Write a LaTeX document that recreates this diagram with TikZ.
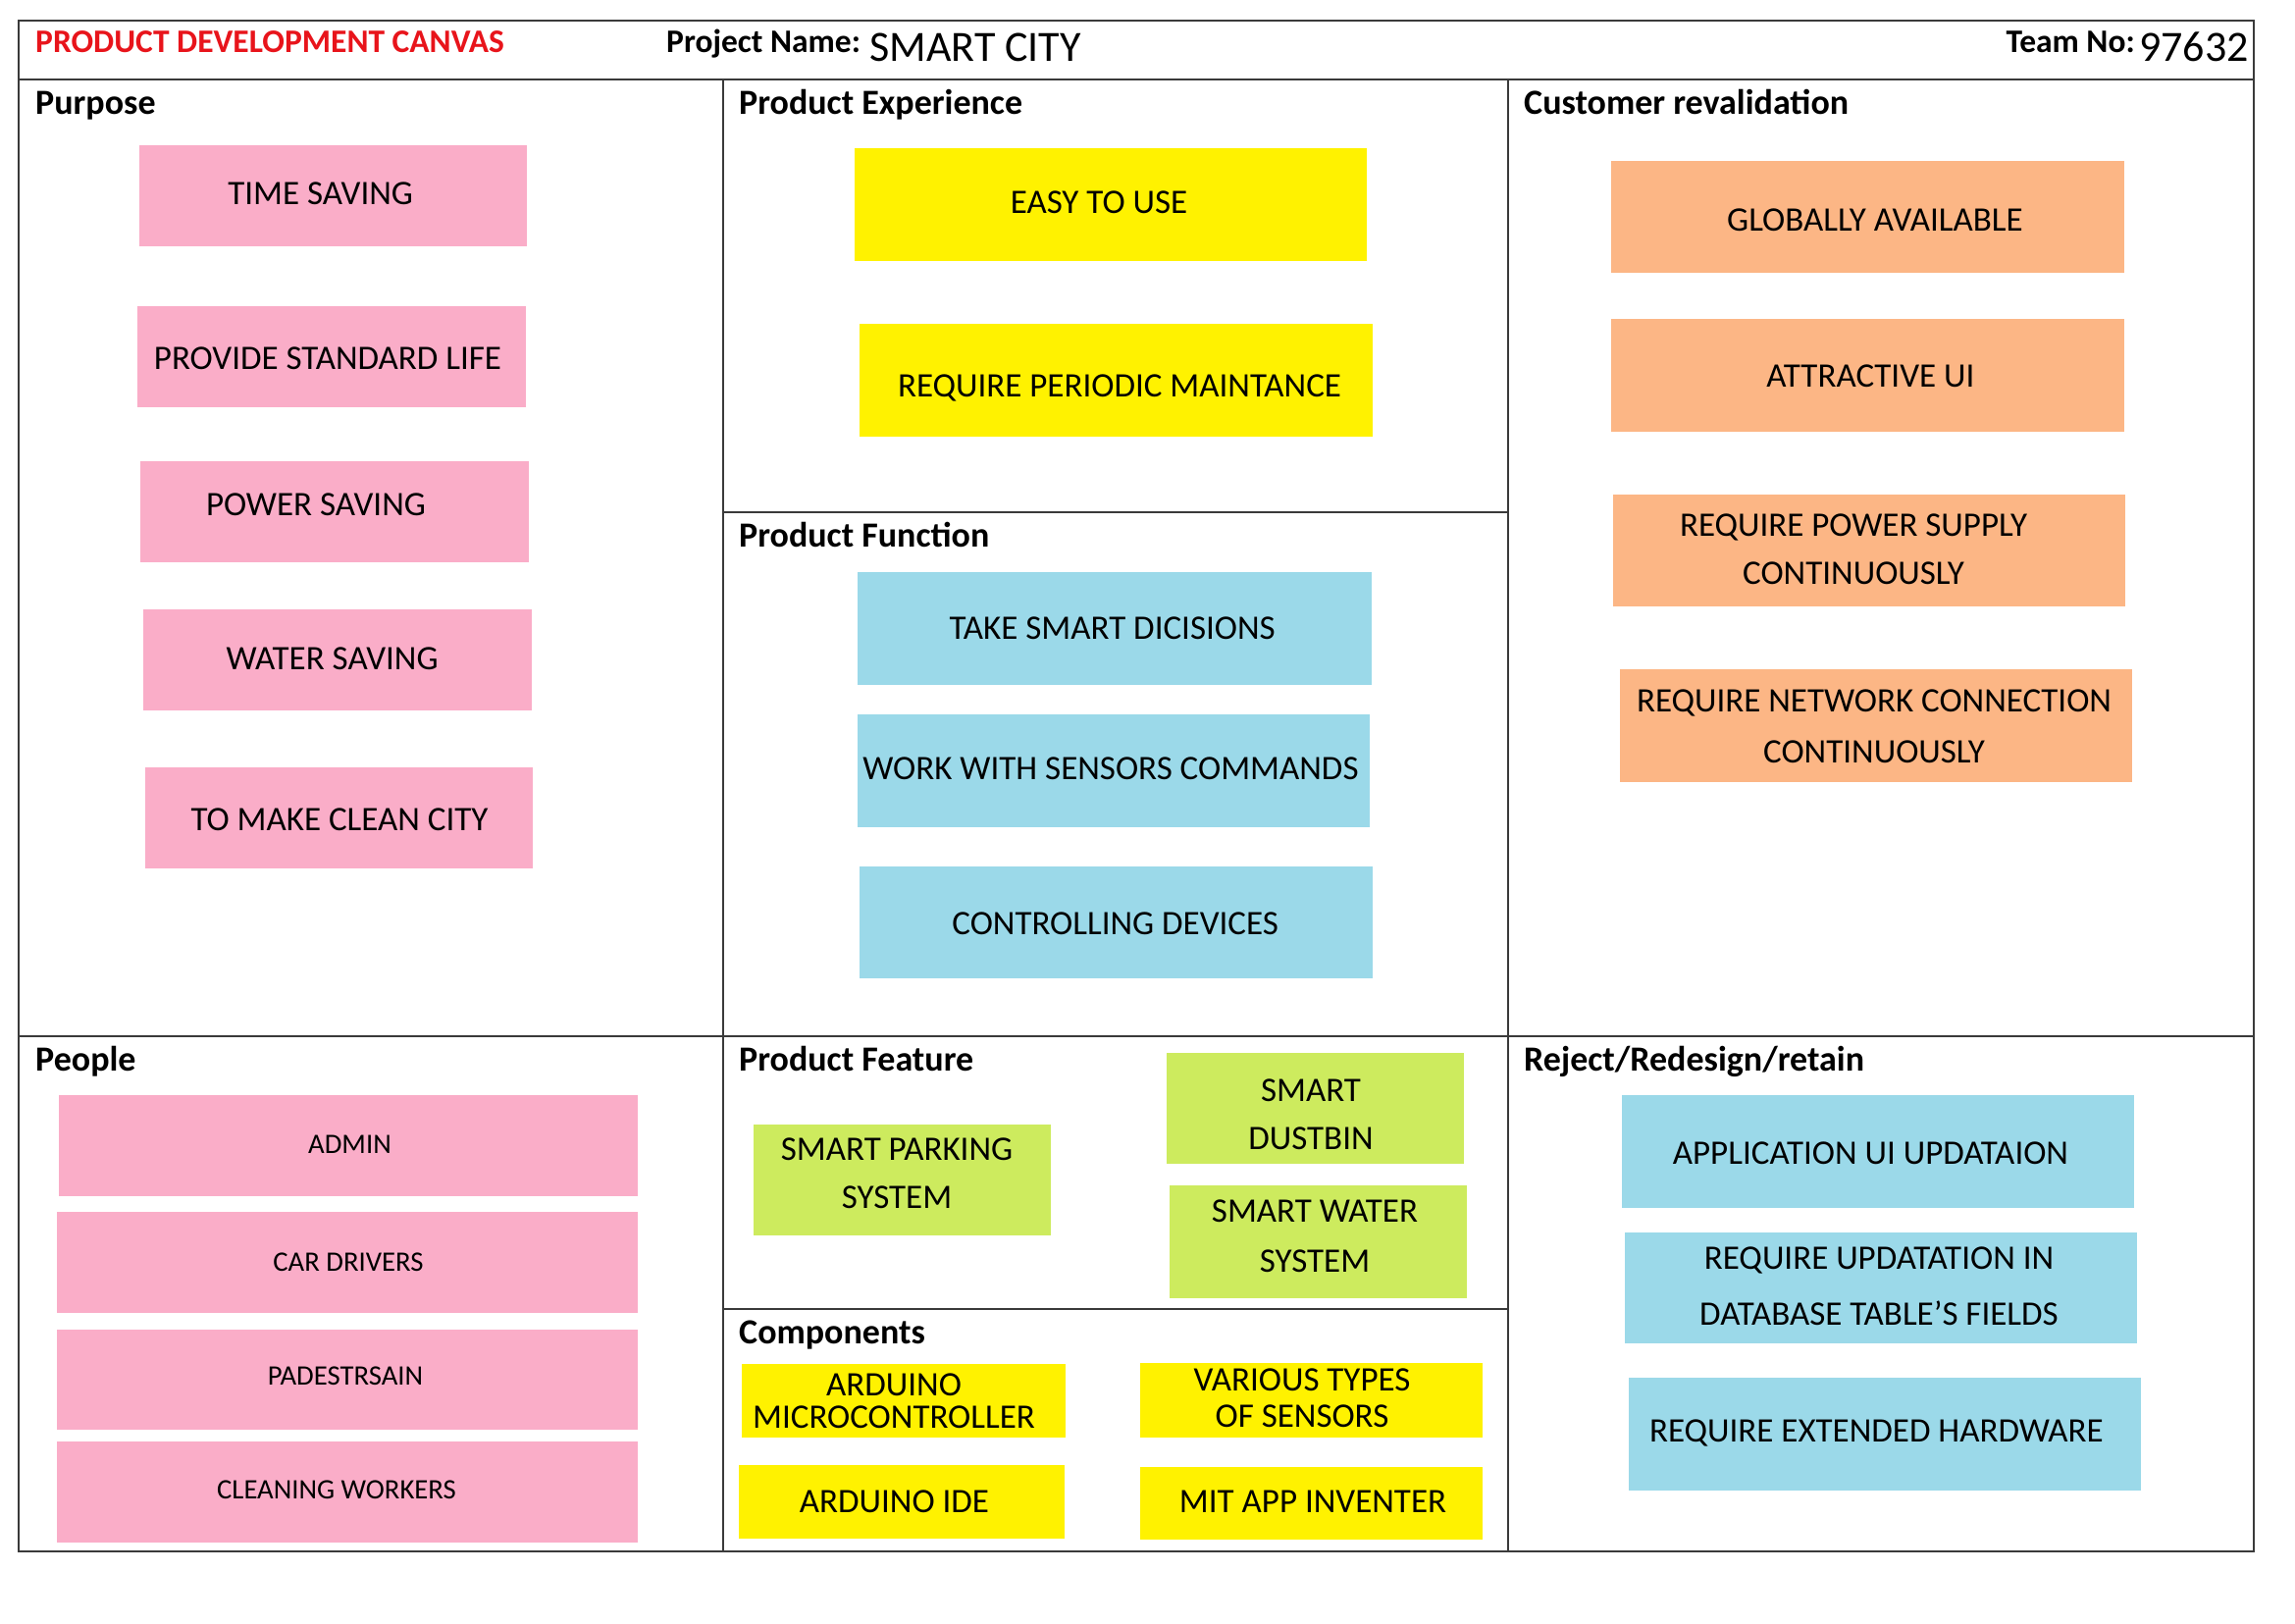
\documentclass[tikz,border=0pt]{standalone}
\usepackage{fontspec}
\setmainfont{Carlito}
\usetikzlibrary{fit}
\definecolor{pinkc}{HTML}{FAADC8}
\definecolor{yelc}{HTML}{FFF200}
\definecolor{cyanc}{HTML}{9BD9E9}
\definecolor{orgc}{HTML}{FCB685}
\definecolor{grnc}{HTML}{CDEB5E}
\definecolor{linec}{HTML}{3A3A3A}
\definecolor{redc}{HTML}{E8141B}
\tikzset{
  cardbox/.style={draw=none, inner sep=0pt, outer sep=0pt, rectangle},
  cardtext/.style={inner sep=0pt, align=center, font=\fontsize{35}{41}\selectfont},
  peopletext/.style={font=\fontsize{28.7}{34}\selectfont},
  head/.style={anchor=base west, inner sep=0pt, font=\fontsize{36}{42}\selectfont\bfseries},
  gridline/.style={draw=linec, line width=2pt},
}
\newcommand\card[7][]{%
  \node[cardbox, fill=#5, fit={(#3) (#4)}] (#2) {};
  \node[cardtext,#1] (#2t) at (#6) {#7};}
\begin{document}
\begin{tikzpicture}[x=1pt,y=-1pt]
\useasboundingbox[fill=white] (0,0) rectangle (2339,1654);
% grid
\draw[gridline] (19.4,21) rectangle (2297,1581);
\draw[gridline] (19.4,81) -- (2297,81);
\draw[gridline] (737,81) -- (737,1581);
\draw[gridline] (1536.5,81) -- (1536.5,1581);
\draw[gridline] (19.4,1056) -- (2297,1056);
\draw[gridline] (737,522) -- (1536.5,522);
\draw[gridline] (737,1334) -- (1536.5,1334);
% header
\node[head, font=\fontsize{33.5}{40}\selectfont\bfseries, text=redc] (title) at (36,54) {PRODUCT DEVELOPMENT CANVAS};
\node[head, font=\fontsize{33.5}{40}\selectfont\bfseries] (pn) at (679,54) {Project Name:};
\node[anchor=base west, inner sep=0pt, font=\fontsize{44}{50}\selectfont] (pname) at (886,63) {SMART CITY};
\node[anchor=base east, inner sep=0pt, font=\fontsize{33.5}{40}\selectfont\bfseries] (tn) at (2176,54) {Team No:};
\node[anchor=base east, inner sep=0pt, font=\fontsize{44}{50}\selectfont] (tnum) at (2292,63) {97632};
% section headings
\node[head] (hpur) at (36,116) {Purpose};
\node[head] (hexp) at (753,116) {Product Experience};
\node[head] (hcus) at (1553,116) {Customer revalidation};
\node[head] (hfun) at (753,557) {Product Function};
\node[head] (hpeo) at (36,1091) {People};
\node[head] (hfea) at (753,1091) {Product Feature};
\node[head] (hrej) at (1553,1091) {Reject/Redesign/retain};
\node[head] (hcom) at (753,1369) {Components};
% purpose
\card{pu1}{141.7,147.7}{537,250.6}{pinkc}{326.7,196.9}{TIME SAVING}
\card{pu2}{140,311.8}{535.5,414.7}{pinkc}{334,365.5}{PROVIDE STANDARD LIFE}
\card{pu3}{143,470}{538.5,572.8}{pinkc}{322,514.6}{POWER SAVING}
\card{pu4}{146,620.5}{541.5,723.5}{pinkc}{338.6,671.3}{WATER SAVING}
\card{pu5}{147.7,781.6}{543,884.6}{pinkc}{346,835.4}{TO MAKE CLEAN CITY}
% product experience
\card{ex1}{871,150.7}{1393,265.5}{yelc}{1120,205.9}{EASY TO USE}
\card{ex2}{875.6,329.7}{1399,444.5}{yelc}{1141,395.3}{REQUIRE PERIODIC MAINTANCE}
% product function
\card{fu1}{874,583}{1397.7,698}{cyanc}{1133.7,640}{TAKE SMART DICISIONS}
\card{fu2}{874,728}{1396,843}{cyanc}{1132,783}{WORK WITH SENSORS COMMANDS}
\card{fu3}{875.6,883}{1399,996.5}{cyanc}{1136.7,941.3}{CONTROLLING DEVICES}
% customer revalidation
\card{cu1}{1642.4,164}{2164.5,277.5}{orgc}{1910.9,223.8}{GLOBALLY AVAILABLE}
\card{cu2}{1642.4,325}{2164.5,440}{orgc}{1906.4,383.4}{ATTRACTIVE UI}
\card[font=\fontsize{35}{49}\selectfont]{cu3}{1643.8,504}{2166,617.6}{orgc}{1889,560}{REQUIRE POWER SUPPLY\\CONTINUOUSLY}
\card[font=\fontsize{35}{52}\selectfont]{cu4}{1651.3,681.7}{2173.4,796.6}{orgc}{1910,740.6}{REQUIRE NETWORK CONNECTION\\CONTINUOUSLY}
% people
\card[peopletext]{pe1}{59.7,1115.8}{650.4,1218.7}{pinkc}{356.5,1166.5}{ADMIN}
\card[peopletext]{pe2}{58.2,1235}{650.4,1338}{pinkc}{355,1285.8}{CAR DRIVERS}
\card[peopletext]{pe3}{58.2,1354.5}{650.4,1457.4}{pinkc}{352,1402.2}{PADESTRSAIN}
\card[peopletext]{pe4}{58.2,1469.3}{650.4,1572.3}{pinkc}{343,1518.5}{CLEANING WORKERS}
% product feature
\card[font=\fontsize{35}{49}\selectfont]{fe1}{768.2,1145.6}{1071,1259}{grnc}{914,1195.5}{SMART PARKING\\SYSTEM}
\card[font=\fontsize{35}{49}\selectfont]{fe2}{1189,1072.5}{1491.7,1186}{grnc}{1336,1136}{SMART\\DUSTBIN}
\card[font=\fontsize{35}{51}\selectfont]{fe3}{1192,1208.3}{1494.7,1323}{grnc}{1340,1260}{SMART WATER\\SYSTEM}
% components
\card[font=\fontsize{35}{33}\selectfont]{co1}{756.3,1390.3}{1086,1465}{yelc}{911,1427.5}{ARDUINO\\MICROCONTROLLER}
\card[font=\fontsize{35}{37}\selectfont]{co2}{1162,1388.8}{1511,1465}{yelc}{1327,1425}{VARIOUS TYPES\\OF SENSORS}
\card{co3}{753.3,1493}{1084.5,1567.8}{yelc}{911.4,1530.5}{ARDUINO IDE}
\card{co4}{1162,1494.7}{1511,1569.3}{yelc}{1338,1530.5}{MIT APP INVENTER}
% reject / redesign / retain
\card{re1}{1652.8,1115.8}{2175,1230.7}{cyanc}{1906.4,1175.5}{APPLICATION UI UPDATAION}
\card[font=\fontsize{35}{57}\selectfont]{re2}{1655.8,1256}{2177.8,1369.4}{cyanc}{1915,1311}{REQUIRE UPDATATION IN\\DATABASE TABLE’S FIELDS}
\card{re3}{1660.3,1403.7}{2182.3,1518.6}{cyanc}{1912.4,1460.4}{REQUIRE EXTENDED HARDWARE}
\end{tikzpicture}
\end{document}
